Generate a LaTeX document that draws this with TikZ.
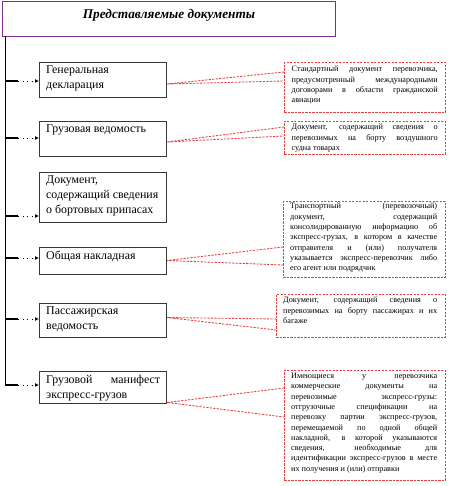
\documentclass[tikz,border=0pt]{standalone}
\usepackage{fontspec}
\setmainfont{Liberation Serif}
\usetikzlibrary{arrows.meta,calc}
\definecolor{ttl}{RGB}{125,45,140}
\definecolor{rd}{RGB}{228,62,62}
\definecolor{bx}{RGB}{55,55,55}
\begin{document}
\begin{tikzpicture}[x=1pt,y=-1pt,
 lbox/.style={draw=bx,line width=1pt,inner sep=0pt,anchor=north west,minimum width=127pt},
 ltext/.style={anchor=north west,inner sep=0pt,font=\fontsize{11.9}{14.8}\selectfont,align=left},
 rbox/.style={draw=rd,line width=0.85pt,dash pattern=on 2.2pt off 1.3pt,anchor=north west,inner sep=0pt},
 rtext/.style={anchor=north west,inner sep=0pt,text width=146pt,align=justify,font=\fontsize{8.2}{10.3}\selectfont},
 callout/.style={draw=rd,line width=0.85pt,dash pattern=on 2.2pt off 1.3pt},
 stub/.style={line width=1.6pt},
 dots/.style={line width=0.9pt,dash pattern=on 1pt off 3.5pt,-{Latex[length=4pt,width=4pt]}}
]
\useasboundingbox (0,0) rectangle (450,486);
% title
\node[draw=ttl,line width=1.3pt,inner sep=0pt,anchor=north west,minimum width=333pt,minimum height=35pt] (title) at (2,1) {};
\node[font=\fontsize{13.3}{15}\selectfont\bfseries\itshape] (ttext) at (169,15) {Представляемые документы};
% left boxes
\node[lbox,minimum height=35pt] (b1) at (39,62) {};
\node[lbox,minimum height=35pt] (b2) at (39,121) {};
\node[lbox,minimum height=50pt] (b3) at (39,172) {};
\node[lbox,minimum height=27pt] (b4) at (39,247) {};
\node[lbox,minimum height=34pt] (b5) at (39,303) {};
\node[lbox,minimum height=32pt] (b6) at (39,371) {};
\node[ltext] (t1) at ($(b1.north west)+(7,4)$) {Генеральная\\декларация};
\node[ltext] (t2) at ($(b2.north west)+(7,4)$) {Грузовая ведомость};
\node[ltext] (t3) at ($(b3.north west)+(7,4)$) {Документ,\\содержащий сведения\\о бортовых припасах};
\node[ltext] (t4) at ($(b4.north west)+(7,4)$) {Общая накладная};
\node[ltext] (t5) at ($(b5.north west)+(7,4)$) {Пассажирская\\ведомость};
\node[ltext,text width=114pt,align=justify] (t6) at ($(b6.north west)+(7,4)$) {Грузовой\hfill манифест\linebreak экспресс-грузов};
% trunk and branches
\coordinate (j0) at (5,36);
\coordinate (j1) at (5,81);
\coordinate (j2) at (5,138);
\coordinate (j3) at (5,216);
\coordinate (j4) at (5,258);
\coordinate (j5) at (5,319);
\coordinate (j6) at (5,385);
\draw[line width=1pt] (j0) -- (j6);
\foreach \i in {1,...,6}{
  \draw[stub] (j\i) -- ++(13,0) coordinate (s\i);
  \draw[dots] (s\i) -- (b\i.west |- j\i);
}
% right boxes
\node[rbox,minimum width=161pt,minimum height=50pt] (r1) at (284,62) {};
\node[rbox,minimum width=161pt,minimum height=33pt] (r2) at (284,121) {};
\node[rbox,minimum width=162pt,minimum height=76pt] (r3) at (283,201) {};
\node[rbox,minimum width=169pt,minimum height=43pt] (r4) at (276,294) {};
\node[rbox,minimum width=161pt,minimum height=110pt] (r5) at (284,370) {};
\node[rtext] (q1) at ($(r1.north west)+(7.5,4)$) {Стандартный документ перевозчика,\linebreak предусмотренный международными\linebreak договорами в области гражданской\linebreak авиации};
\node[rtext] (q2) at ($(r2.north west)+(7.5,3)$) {Документ, содержащий сведения о\linebreak перевозимых на борту воздушного\linebreak судна товарах};
\node[rtext,text width=147pt] (q3) at ($(r3.north west)+(7,2)$) {Транспортный (перевозочный)\linebreak документ, содержащий\linebreak консолидированную информацию об\linebreak экспресс-грузах, в котором в качестве\linebreak отправителя и (или) получателя\linebreak указывается экспресс-перевозчик либо\linebreak его агент или подрядчик};
\node[rtext,text width=154pt] (q4) at ($(r4.north west)+(7,3)$) {Документ, содержащий сведения о\linebreak перевозимых на борту пассажирах и их\linebreak багаже};
\node[rtext] (q5) at ($(r5.north west)+(7,3)$) {Имеющиеся у перевозчика\linebreak коммерческие документы на\linebreak перевозимые экспресс-грузы:\linebreak отгрузочные спецификации на\linebreak перевозку партии экспресс-грузов,\linebreak перемещаемой по одной общей\linebreak накладной, в которой указываются\linebreak сведения, необходимые для\linebreak идентификации экспресс-грузов в месте\linebreak их получения и (или) отправки};
% callouts
\coordinate (a1) at ($(b1.east)+(0,4)$);
\coordinate (u1) at ($(r1.north west)+(0,10)$);
\coordinate (l1) at ($(r1.north west)+(0,19)$);
\draw[callout] (u1) -- (a1) -- (l1);
\coordinate (a2) at ($(b2.east)+(0,3)$);
\coordinate (u2) at ($(r2.north west)+(0,6)$);
\coordinate (l2) at ($(r2.north west)+(0,15)$);
\draw[callout] (u2) -- (a2) -- (l2);
\coordinate (a4) at ($(b4.east)+(0,-0.5)$);
\coordinate (u4) at ($(r3.north west)+(0,46)$);
\coordinate (l4) at ($(r3.north west)+(0,64)$);
\draw[callout] (u4) -- (a4) -- (l4);
\coordinate (a5) at ($(b5.east)+(0,-3)$);
\coordinate (u5) at ($(r4.north west)+(0,25)$);
\coordinate (l5) at ($(r4.north west)+(0,36)$);
\draw[callout] (u5) -- (a5) -- (l5);
\coordinate (a6) at ($(b6.east)+(0,15)$);
\coordinate (u6) at ($(r5.north west)+(0,18)$);
\coordinate (l6) at ($(r5.north west)+(0,47)$);
\draw[callout] (u6) -- (a6) -- (l6);
\end{tikzpicture}
\end{document}
